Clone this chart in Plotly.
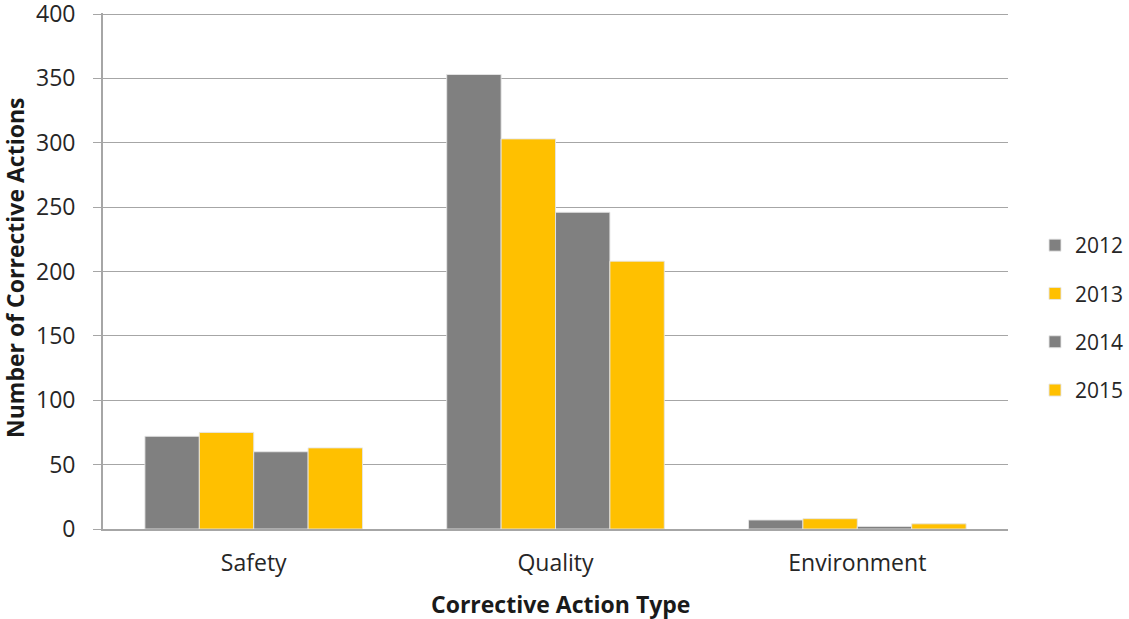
import plotly.graph_objects as go

categories = ["Safety", "Quality", "Environment"]
years = ["2012", "2013", "2014", "2015"]
values_2012 = [72, 353, 7]
values_2013 = [75, 303, 8]
values_2014 = [60, 246, 2]
values_2015 = [63, 208, 4]
y_ticks = [0, 50, 100, 150, 200, 250, 300, 350, 400]

series = [values_2012, values_2013, values_2014, values_2015]
colors = ["#808080", "#FFC000", "#808080", "#FFC000"]

W, H = 1129, 619
FONT = "'Open Sans', sans-serif"
TEXT = "#262626"
AXIS = "#A6A6A6"

# plot area in pixels; y range runs a touch past 400 so the top gridline renders
left, right, bottom = 103, 1010, 529
y_max = 401
top = 14 - (y_max - 400) * (529 - 14) / 400

fig = go.Figure()
for year, vals, col in zip(years, series, colors):
    fig.add_trace(go.Bar(
        x=categories, y=vals, name=year, legendgroup=year,
        marker=dict(color=col, line=dict(color="rgba(230,230,230,0.9)", width=1)),
    ))

fig.update_layout(
    width=W, height=H,
    margin=dict(l=0, r=0, t=0, b=0),
    paper_bgcolor="white", plot_bgcolor="white",
    barmode="group", bargap=0.279, bargroupgap=0,
    font=dict(family=FONT, size=23, color=TEXT),
    showlegend=True,
    legend=dict(
        x=1037 / W, xanchor="left", y=1 - 318 / H, yanchor="middle",
        font=dict(size=21, color=TEXT),
        traceorder="grouped", tracegroupgap=18,
        itemwidth=30, bgcolor="rgba(0,0,0,0)",
    ),
    xaxis=dict(
        domain=[left / W, right / W], automargin=False,
        showline=True, linecolor=AXIS, linewidth=1.5,
        ticks="", tickfont=dict(size=23, color=TEXT),
        ticklabelstandoff=13, ticklabeloverflow="allow",
    ),
    yaxis=dict(
        domain=[1 - bottom / H, 1 - top / H], automargin=False,
        range=[0, y_max], tickvals=y_ticks,
        showline=True, linecolor=AXIS, linewidth=1.5,
        showgrid=True, gridcolor=AXIS, gridwidth=1,
        ticks="outside", ticklen=8, tickcolor=AXIS,
        tickfont=dict(size=23, color=TEXT),
        ticklabelstandoff=13, ticklabeloverflow="allow",
        zeroline=False,
    ),
    annotations=[
        dict(text="<b>Corrective Action Type</b>", xref="paper", yref="paper",
             x=561 / W, y=1 - 604 / H, xanchor="center", yanchor="middle",
             showarrow=False, font=dict(size=23, color="#1a1a1a")),
        dict(text="<b>Number of Corrective Actions</b>", xref="paper", yref="paper",
             x=15 / W, y=1 - 268 / H, xanchor="center", yanchor="middle",
             textangle=-90, showarrow=False, font=dict(size=23, color="#1a1a1a")),
    ],
)

fig.write_html("out.html")
